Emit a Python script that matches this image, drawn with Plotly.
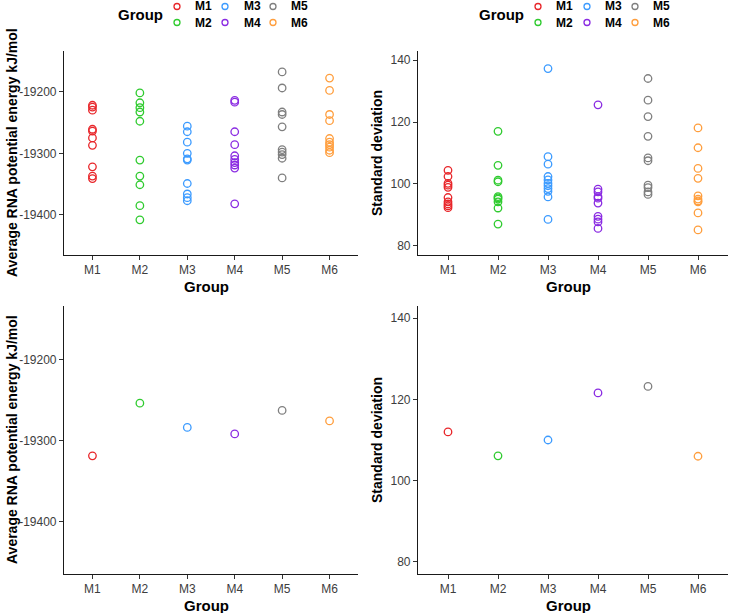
import plotly.graph_objects as go

groups = ["M1", "M2", "M3", "M4", "M5", "M6"]
colors = ["#E8262A", "#2FCB2F", "#3C9BFF", "#8A2BE2", "#7F7F7F", "#FF9E3D"]

# Top-left: average RNA potential energy per replica
energy_M1 = [-19222, -19225, -19230, -19261, -19264, -19275, -19287, -19322, -19337, -19341]
energy_M2 = [-19202, -19218, -19226, -19233, -19248, -19311, -19337, -19351, -19385, -19408]
energy_M3 = [-19256, -19265, -19282, -19300, -19309, -19311, -19349, -19366, -19372, -19377]
energy_M4 = [-19214, -19217, -19265, -19286, -19304, -19310, -19315, -19319, -19324, -19382]
energy_M5 = [-19168, -19194, -19233, -19237, -19257, -19294, -19298, -19302, -19308, -19340]
energy_M6 = [-19178, -19198, -19237, -19247, -19276, -19282, -19286, -19290, -19295, -19299]

# Top-right: standard deviation per replica
sd_M1 = [104.4, 102.4, 100.2, 99.6, 98.9, 95.6, 94.2, 93.5, 92.9, 92.3]
sd_M2 = [117.0, 106.0, 101.2, 100.7, 95.9, 95.5, 95.1, 94.2, 92.2, 87.0]
sd_M3 = [137.3, 108.8, 106.4, 102.4, 101.3, 100.2, 99.4, 98.5, 97.6, 95.8, 88.5]
sd_M4 = [125.6, 98.3, 97.4, 95.9, 95.4, 93.8, 89.5, 88.6, 87.7, 85.6]
sd_M5 = [134.1, 127.1, 121.8, 115.4, 108.4, 107.5, 99.6, 98.8, 97.4, 96.6]
sd_M6 = [118.1, 111.7, 105.0, 101.8, 96.1, 95.1, 94.5, 94.2, 90.6, 85.1]

# Bottom panels: single value per group
energy_single = [-19319, -19254, -19284, -19292, -19263, -19276]
sd_single = [112.0, 106.1, 110.0, 121.6, 123.2, 106.0]

energy_ticks = [-19400, -19300, -19200]
energy_ticktext = ["-19400", "-19300", "-19200"]
sd_ticks = [80, 100, 120, 140]

energy_sets = [energy_M1, energy_M2, energy_M3, energy_M4, energy_M5, energy_M6]
sd_sets = [sd_M1, sd_M2, sd_M3, sd_M4, sd_M5, sd_M6]

W, H = 729, 613
FONT = "Liberation Sans, Arial, Helvetica, sans-serif"

fig = go.Figure()

def add_points(xs, ys, color, xa, ya):
    fig.add_trace(go.Scatter(
        x=xs, y=ys, mode="markers", xaxis=xa, yaxis=ya, showlegend=False,
        marker=dict(symbol="circle-open", size=7.5, color=color, line=dict(width=1.3, color=color)),
        hoverinfo="x+y"))

for g, c, ev, sv in zip(groups, colors, energy_sets, sd_sets):
    add_points([g] * len(ev), ev, c, "x", "y")
    add_points([g] * len(sv), sv, c, "x2", "y2")

for g, c, ev, sv in zip(groups, colors, energy_single, sd_single):
    add_points([g], [ev], c, "x3", "y3")
    add_points([g], [sv], c, "x4", "y4")

# panel geometry in pixels
left_x = (64, 358)
right_x = (418, 728)
top_y = (51, 255)
bot_y = (306, 574)

def xd(p):
    return [p[0] / W, p[1] / W]

def yd(p):
    return [1 - p[1] / H, 1 - p[0] / H]

axis_common = dict(showline=True, linecolor="#1a1a1a", linewidth=1.1, ticks="outside",
                   ticklen=4, tickwidth=1, tickcolor="#333333", showgrid=False, zeroline=False,
                   automargin=False,
                   tickfont=dict(family=FONT, size=12, color="#3d3d3d"))

energy_range = [-19465, -19134]
sd_range = [77, 143]

layout = dict(
    template="none",
    width=W, height=H, margin=dict(l=0, r=0, t=0, b=0, autoexpand=False),
    paper_bgcolor="white", plot_bgcolor="white", showlegend=False,
    font=dict(family=FONT),
)
for i, (xdom, ydom, yr, tv, tt, anc) in enumerate([
    (left_x, top_y, energy_range, energy_ticks, energy_ticktext, ""),
    (right_x, top_y, sd_range, sd_ticks, [str(v) for v in sd_ticks], "2"),
    (left_x, bot_y, energy_range, energy_ticks, energy_ticktext, "3"),
    (right_x, bot_y, sd_range, sd_ticks, [str(v) for v in sd_ticks], "4"),
]):
    layout["xaxis" + anc] = dict(axis_common, domain=xd(xdom), anchor="y" + anc,
                                  type="category", categoryorder="array", categoryarray=groups,
                                  range=[-0.6, 5.6])
    layout["yaxis" + anc] = dict(axis_common, domain=yd(ydom), anchor="x" + anc,
                                  range=yr, tickvals=tv, ticktext=tt)

fig.update_layout(**layout)

annotations = []
shapes = []

def px_ann(text, x, y, size, bold=True, angle=0, color="black", xanchor="center"):
    annotations.append(dict(
        text=("<b>%s</b>" % text) if bold else text, x=x / W, y=1 - y / H,
        xref="paper", yref="paper", showarrow=False, textangle=angle,
        xanchor=xanchor, yanchor="middle", font=dict(family=FONT, size=size, color=color)))

# axis titles
for (xl, xr), (yt, yb), ytitle, ytx in [
    (left_x, top_y, "Average RNA potential energy kJ/mol", 12),
    (right_x, top_y, "Standard deviation", 377),
    (left_x, bot_y, "Average RNA potential energy kJ/mol", 12),
    (right_x, bot_y, "Standard deviation", 377),
]:
    cx = xl + 3.0 / 6.2 * (xr - xl)
    px_ann("Group", cx, yb + 31, 15)
    px_ann(ytitle, ytx, (yt + yb) / 2, 14, angle=-90)

# manual legends (two rows, column-major)
for gx, cxs, txs in [
    (140, [177, 225, 273], [193, 242, 289]),
    (501, [538, 587, 635], [554, 603, 651]),
]:
    px_ann("Group", gx, 14.5, 15)
    for k, g in enumerate(groups):
        col, row = k // 2, k % 2
        cy = 6.5 if row == 0 else 22.5
        c = colors[k]
        shapes.append(dict(type="circle", xref="paper", yref="paper",
                           xsizemode="pixel", ysizemode="pixel",
                           xanchor=cxs[col] / W, yanchor=1 - cy / H,
                           x0=-3, x1=3, y0=-3, y1=3,
                           line=dict(color=c, width=1.3), fillcolor="rgba(0,0,0,0)"))
        px_ann(g, txs[col], cy, 12, xanchor="left")

fig.update_layout(annotations=annotations, shapes=shapes)
fig.write_html("out.html", config={"displayModeBar": False},
               post_script="document.body.style.margin='0';")
